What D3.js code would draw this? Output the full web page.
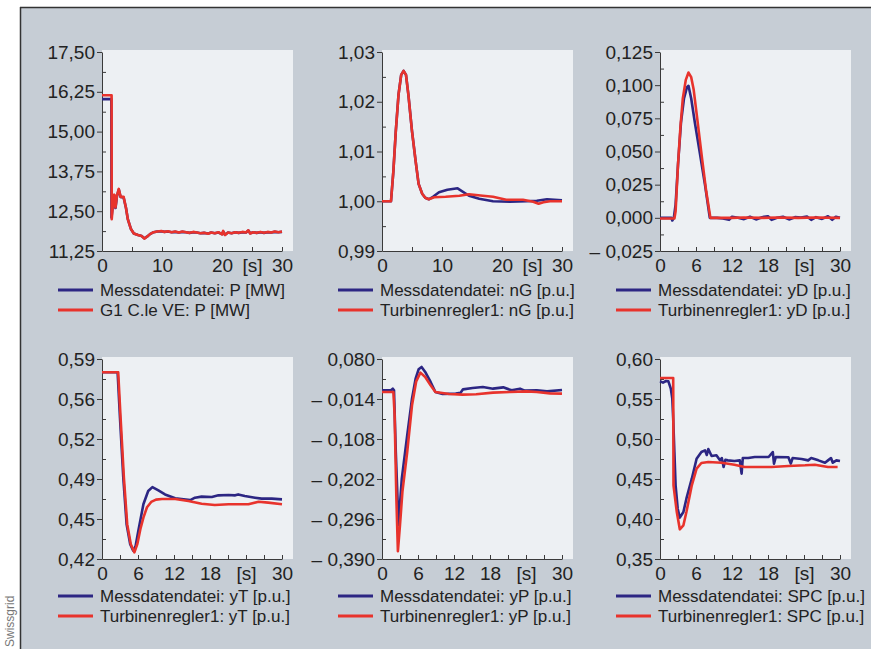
<!DOCTYPE html>
<html>
<head>
<meta charset="utf-8">
<script src="https://cdn.jsdelivr.net/npm/d3@7"></script>
<style>
  html, body { margin: 0; padding: 0; background: #fff; }
  svg { display: block; font-family: "Liberation Sans", Arial, sans-serif; }
</style>
</head>
<body>
<svg id="chart" width="871" height="649"></svg>
<script>
// ---- data: [time s, value] ----
const pMess = [[0,16.02],[1.55,16.02],[1.58,12.3],[1.9,12.85],[2.05,13.0],[2.25,12.6],[2.5,12.98],[2.8,13.18],[3.1,12.95],[3.6,12.93],[4.0,12.6],[4.3,12.25],[4.8,11.95],[5.3,11.8],[6.0,11.75],[6.6,11.72],[7.05,11.65],[7.5,11.7],[8.0,11.78],[8.6,11.84],[9.2,11.86],[9.9,11.87],[10.4,11.85],[11.0,11.86],[11.6,11.84],[12.2,11.85],[12.8,11.83],[13.4,11.85],[14.0,11.84],[14.6,11.82],[15.2,11.84],[15.8,11.83],[16.4,11.81],[17.0,11.82],[17.7,11.8],[18.2,11.83],[18.8,11.81],[19.4,11.83],[20.0,11.78],[20.2,11.86],[20.5,11.76],[21.0,11.83],[21.6,11.81],[22.2,11.84],[22.8,11.82],[23.4,11.84],[24.0,11.83],[24.4,11.89],[24.7,11.81],[25.2,11.84],[25.8,11.82],[26.4,11.84],[27.0,11.82],[27.6,11.84],[28.2,11.83],[28.8,11.85],[29.4,11.84],[30,11.85]];
const pSim = [[0,16.14],[1.6,16.14],[1.62,12.25],[1.9,12.9],[2.05,13.02],[2.25,12.62],[2.5,13.0],[2.8,13.2],[3.1,12.95],[3.6,12.95],[4.0,12.6],[4.3,12.25],[4.8,11.95],[5.3,11.8],[6.0,11.75],[6.6,11.72],[7.05,11.64],[7.5,11.7],[8.0,11.78],[8.6,11.84],[9.2,11.86],[9.9,11.88],[10.4,11.85],[11.0,11.87],[11.6,11.84],[12.2,11.86],[12.8,11.83],[13.4,11.86],[14.0,11.84],[14.6,11.82],[15.2,11.85],[15.8,11.83],[16.4,11.81],[17.0,11.82],[17.7,11.79],[18.2,11.83],[18.8,11.81],[19.4,11.84],[20.0,11.77],[20.2,11.88],[20.5,11.75],[21.0,11.83],[21.6,11.81],[22.2,11.84],[22.8,11.82],[23.4,11.85],[24.0,11.83],[24.4,11.9],[24.7,11.8],[25.2,11.84],[25.8,11.82],[26.4,11.85],[27.0,11.82],[27.6,11.85],[28.2,11.83],[28.8,11.86],[29.4,11.84],[30,11.86]];

const nGMess = [[0,1.0],[1.5,1.0],[1.9,1.0061],[2.3,1.0141],[2.75,1.0214],[3.2,1.0254],[3.6,1.0262],[4.0,1.0254],[4.4,1.0214],[5.0,1.0141],[5.6,1.0081],[6.1,1.0035],[6.7,1.0015],[7.2,1.0007],[7.8,1.0004],[8.5,1.0009],[9.5,1.0018],[10.9,1.0023],[12.6,1.0026],[14.5,1.0011],[16.2,1.0005],[18.5,1.0],[21.3,0.9999],[24.1,1.0],[25.8,1.0001],[27.5,1.0004],[30,1.0002]];
const nGSim = [[0,1.0],[1.5,1.0],[1.9,1.0061],[2.3,1.0141],[2.75,1.0214],[3.2,1.0254],[3.6,1.0262],[4.0,1.0254],[4.4,1.0214],[5.0,1.0141],[5.6,1.0081],[6.1,1.0035],[6.7,1.0015],[7.2,1.0007],[7.8,1.0004],[8.7,1.0008],[10.6,1.0009],[12.9,1.0011],[14.5,1.0014],[16.8,1.0011],[18.5,1.0009],[20.7,1.0003],[23.5,1.0003],[25.2,0.9999],[26.1,0.9995],[26.9,0.9998],[28,1.0],[30,1.0]];

const yDMess = [[0,0],[1.9,0],[2.05,-0.002],[2.3,0],[2.6,0.01],[3.0,0.04],[3.5,0.072],[4.0,0.09],[4.5,0.0985],[4.75,0.0995],[5.2,0.09],[5.8,0.072],[6.6,0.05],[7.5,0.025],[8.3,0],[9.5,0],[10.5,-0.0005],[11.5,-0.0015],[12,0.0008],[13,0],[14,-0.001],[15,0.0008],[16,-0.0012],[17,0.0005],[18,0.0012],[18.6,-0.0015],[19.5,0],[20.5,0.0008],[21.5,-0.0012],[22.5,0.0005],[23.5,0.0002],[24.5,0.001],[25.2,-0.0015],[26,0.0005],[27,-0.0008],[28,0.0012],[28.7,-0.0015],[29.3,0.0008],[30,0]];
const yDSim = [[0,-0.0005],[2.4,-0.0005],[2.6,0.005],[3.0,0.04],[3.4,0.068],[3.8,0.09],[4.3,0.104],[4.75,0.1095],[5.2,0.106],[5.6,0.097],[6.2,0.075],[7.0,0.045],[7.7,0.02],[8.4,0],[12,0],[14,0.0003],[17,0],[20,0.0002],[23,0],[26,0.0002],[30,0]];

const yTMess = [[0,0.5787],[2.6,0.5787],[3.0,0.5398],[3.55,0.489],[4.1,0.4496],[4.7,0.4326],[5.2,0.427],[5.6,0.431],[6.05,0.4439],[6.9,0.4665],[7.7,0.4778],[8.4,0.4811],[9.4,0.4783],[10.5,0.4749],[12.2,0.4716],[13.6,0.4707],[14.7,0.4701],[15.5,0.4721],[16.6,0.473],[18.3,0.4727],[19.4,0.4741],[21.1,0.4744],[22.2,0.4741],[22.7,0.4749],[23.8,0.4735],[25.5,0.4721],[26.6,0.4713],[28.3,0.4713],[30,0.4707]];
const yTSim = [[0,0.5787],[2.7,0.5787],[3.1,0.5398],[3.65,0.489],[4.2,0.4496],[4.8,0.4326],[5.4,0.4256],[5.9,0.433],[6.4,0.4455],[6.9,0.4552],[7.5,0.464],[8.2,0.4685],[9.0,0.4705],[10,0.471],[12.2,0.471],[14.4,0.4693],[16.6,0.467],[18.8,0.4659],[21.1,0.4665],[24.4,0.4665],[26.1,0.4687],[27.7,0.4679],[30,0.4665]];

const yPMess = [[0,0.0064],[1.5,0.0064],[1.8,0.0103],[2.0,0.0064],[2.3,-0.1385],[2.75,-0.3107],[3.3,-0.2011],[4.2,-0.0993],[5.0,-0.0132],[5.6,0.0338],[6.1,0.0557],[6.6,0.0612],[7.2,0.0495],[8.1,0.026],[8.9,0.0025],[10.1,-0.0022],[12.3,-0.0014],[13.1,0.0009],[13.5,0.0087],[15.1,0.0119],[16.8,0.0142],[18.5,0.0103],[20.2,0.0134],[21.6,0.0064],[23.0,0.0103],[23.8,0.0056],[25.8,0.0064],[27.5,0.004],[30,0.0072]];
const yPSim = [[0,0.0025],[1.9,0.0025],[2.1,-0.05],[2.4,-0.25],[2.65,-0.3718],[3.0,-0.31],[3.4,-0.2324],[4.2,-0.1385],[5.0,-0.0288],[5.7,0.0275],[6.4,0.0479],[7.2,0.0377],[8.1,0.0181],[8.9,0.0025],[11.2,-0.0022],[13.4,-0.0038],[15.7,-0.003],[18.5,0.0009],[21.3,0.0025],[24.1,0.004],[25.8,0.0025],[28,-0.0007],[30,-0.0014]];

const spcMess = [[0,0.5721],[0.5,0.5705],[1.0,0.5725],[1.4,0.5721],[1.8,0.5629],[2.05,0.5504],[2.2,0.5254],[2.4,0.4837],[2.6,0.4421],[2.95,0.4129],[3.3,0.4017],[3.9,0.4087],[4.4,0.4254],[5.3,0.4504],[6.1,0.4754],[6.9,0.4837],[7.5,0.4858],[7.8,0.48],[8.05,0.4875],[8.6,0.4787],[9.4,0.4796],[10,0.4733],[10.3,0.4762],[10.6,0.465],[10.9,0.474],[11.3,0.4733],[12.4,0.4725],[13.3,0.4733],[13.6,0.4567],[13.8,0.4762],[14.7,0.4762],[15.8,0.4775],[18.1,0.4775],[18.8,0.4837],[19.0,0.4692],[19.3,0.4775],[21.4,0.4771],[21.8,0.4692],[22.1,0.4762],[23.6,0.475],[24.7,0.4733],[25.2,0.4762],[26.4,0.4733],[27.5,0.4704],[28,0.4733],[28.5,0.4762],[28.8,0.4704],[29.4,0.4733],[30,0.4725]];
const spcSim = [[0,0.5762],[2.2,0.5762],[2.25,0.4421],[2.8,0.4087],[3.3,0.3871],[3.9,0.3921],[4.4,0.4087],[5.3,0.4421],[6.1,0.4629],[6.9,0.47],[8.05,0.4712],[10.3,0.4704],[12.4,0.4679],[14.1,0.465],[15.8,0.465],[18.6,0.465],[21.4,0.4662],[24.2,0.4671],[25.8,0.4679],[28,0.465],[29.6,0.465]];

// ---- axes ----
const yTicksP = [11.25, 12.5, 13.75, 15, 16.25, 17.5];
const yLabelsP = ["11,25", "12,50", "13,75", "15,00", "16,25", "17,50"];
const yTicksNG = [0.99, 1.0, 1.01, 1.02, 1.03];
const yLabelsNG = ["0,99", "1,00", "1,01", "1,02", "1,03"];
const yTicksYD = [-0.025, 0, 0.025, 0.05, 0.075, 0.1, 0.125];
const yLabelsYD = ["\u2013 0,025", "0,000", "0,025", "0,050", "0,075", "0,100", "0,125"];
const yTicksYT = [0.42, 0.454, 0.488, 0.522, 0.556, 0.59];
const yLabelsYT = ["0,42", "0,45", "0,49", "0,52", "0,56", "0,59"];
const yTicksYP = [-0.39, -0.296, -0.202, -0.108, -0.014, 0.08];
const yLabelsYP = ["\u2013 0,390", "\u2013 0,296", "\u2013 0,202", "\u2013 0,108", "\u2013 0,014", "0,080"];
const yTicksSPC = [0.35, 0.4, 0.45, 0.5, 0.55, 0.6];
const yLabelsSPC = ["0,35", "0,40", "0,45", "0,50", "0,55", "0,60"];

const xPos10 = [0, 10, 20, 25, 30];
const xLabels10 = ["0", "10", "20", "[s]", "30"];
const xPos6 = [0, 6, 12, 18, 24, 30];
const xLabels6 = ["0", "6", "12", "18", "[s]", "30"];

const legendP = ["Messdatendatei: P [MW]", "G1 C.le VE: P [MW]"];
const legendNG = ["Messdatendatei: nG [p.u.]", "Turbinenregler1: nG [p.u.]"];
const legendYD = ["Messdatendatei: yD [p.u.]", "Turbinenregler1: yD [p.u.]"];
const legendYT = ["Messdatendatei: yT [p.u.]", "Turbinenregler1: yT [p.u.]"];
const legendYP = ["Messdatendatei: yP [p.u.]", "Turbinenregler1: yP [p.u.]"];
const legendSPC = ["Messdatendatei: SPC [p.u.]", "Turbinenregler1: SPC [p.u.]"];

const panels = [
  { col: 0, row: 0, yTicks: yTicksP, yLabels: yLabelsP, xPos: xPos10, xLabels: xLabels10, xMinor: 5, mess: pMess, sim: pSim, legend: legendP },
  { col: 1, row: 0, yTicks: yTicksNG, yLabels: yLabelsNG, xPos: xPos10, xLabels: xLabels10, xMinor: 5, mess: nGMess, sim: nGSim, legend: legendNG },
  { col: 2, row: 0, yTicks: yTicksYD, yLabels: yLabelsYD, xPos: xPos6, xLabels: xLabels6, xMinor: 3, mess: yDMess, sim: yDSim, legend: legendYD },
  { col: 0, row: 1, yTicks: yTicksYT, yLabels: yLabelsYT, xPos: xPos6, xLabels: xLabels6, xMinor: 3, mess: yTMess, sim: yTSim, legend: legendYT },
  { col: 1, row: 1, yTicks: yTicksYP, yLabels: yLabelsYP, xPos: xPos6, xLabels: xLabels6, xMinor: 3, mess: yPMess, sim: yPSim, legend: legendYP },
  { col: 2, row: 1, yTicks: yTicksSPC, yLabels: yLabelsSPC, xPos: xPos6, xLabels: xLabels6, xMinor: 3, mess: spcMess, sim: spcSim, legend: legendSPC }
];

const cols = [102, 382, 660];
const rows = [[52, 251], [359, 559]];
const legendRows = [290, 596];
const plotW = 180;
const blue = "#2c2683", red = "#e8332c";

const svg = d3.select("#chart");

// page background and frame
svg.append("rect").attr("x", 20).attr("y", 7).attr("width", 851).attr("height", 642).attr("fill", "#c6cdd5");
svg.append("line").attr("x1", 20).attr("x2", 871).attr("y1", 7.5).attr("y2", 7.5).attr("stroke", "#333").attr("stroke-width", 1.5);
svg.append("line").attr("x1", 20.5).attr("x2", 20.5).attr("y1", 7).attr("y2", 649).attr("stroke", "#333").attr("stroke-width", 1.5);
svg.append("text")
  .attr("transform", "translate(14,647) rotate(-90)")
  .attr("font-size", 12).attr("fill", "#777")
  .text("Swissgrid");

panels.forEach(p => {
  const x0 = cols[p.col];
  const [top, bottom] = rows[p.row];
  const x = d3.scaleLinear().domain([0, 30]).range([x0, x0 + plotW]);
  const y = d3.scaleLinear().domain(d3.extent(p.yTicks)).range([bottom, top]);
  const g = svg.append("g");

  g.append("rect")
    .attr("x", x0).attr("y", top - 2)
    .attr("width", plotW + 11).attr("height", bottom - top + 2)
    .attr("fill", "#edf0f3");

  // minor y ticks (inside)
  const mids = d3.pairs(p.yTicks).map(([a, b]) => (a + b) / 2);
  g.append("g")
    .attr("transform", `translate(${x0},0)`)
    .call(d3.axisRight(y).tickValues(mids).tickSize(4).tickFormat(""))
    .call(a => a.select(".domain").remove());

  // major y ticks and labels
  g.append("g")
    .attr("transform", `translate(${x0},0)`)
    .call(d3.axisLeft(y).tickValues(p.yTicks).tickFormat((d, i) => p.yLabels[i])
      .tickSize(5).tickSizeOuter(0).tickPadding(2))
    .attr("font-family", null).attr("font-size", 19);

  // x ticks (inside)
  g.append("g")
    .attr("transform", `translate(0,${bottom})`)
    .call(d3.axisBottom(x).tickValues(d3.range(0, 30.01, p.xMinor)).tickSize(-4).tickSizeOuter(0).tickFormat(""));

  // x labels
  g.append("g")
    .attr("transform", `translate(0,${bottom})`)
    .call(d3.axisBottom(x).tickValues(p.xPos).tickFormat((d, i) => p.xLabels[i]).tickSize(0).tickPadding(8))
    .attr("font-family", null).attr("font-size", 19)
    .call(a => a.select(".domain").remove());

  g.selectAll(".domain, .tick line").attr("stroke", "#3a3a3a");
  g.selectAll(".tick text").attr("fill", "#222");

  const line = d3.line().x(d => x(d[0])).y(d => y(d[1]));
  [[p.mess, blue], [p.sim, red]].forEach(([data, c]) => {
    g.append("path").datum(data)
      .attr("d", line)
      .attr("fill", "none").attr("stroke", c)
      .attr("stroke-width", 2.6).attr("stroke-linejoin", "round");
  });

  // legend
  const ly = legendRows[p.row];
  p.legend.forEach((t, i) => {
    const yy = ly + i * 20;
    g.append("line").attr("x1", x0 - 44).attr("x2", x0 - 9).attr("y1", yy).attr("y2", yy)
      .attr("stroke", i === 0 ? blue : red).attr("stroke-width", 3);
    g.append("text").attr("x", x0 - 2).attr("y", yy).attr("dy", "0.35em")
      .attr("font-size", 17).attr("fill", "#222").text(t);
  });
});
</script>
</body>
</html>
